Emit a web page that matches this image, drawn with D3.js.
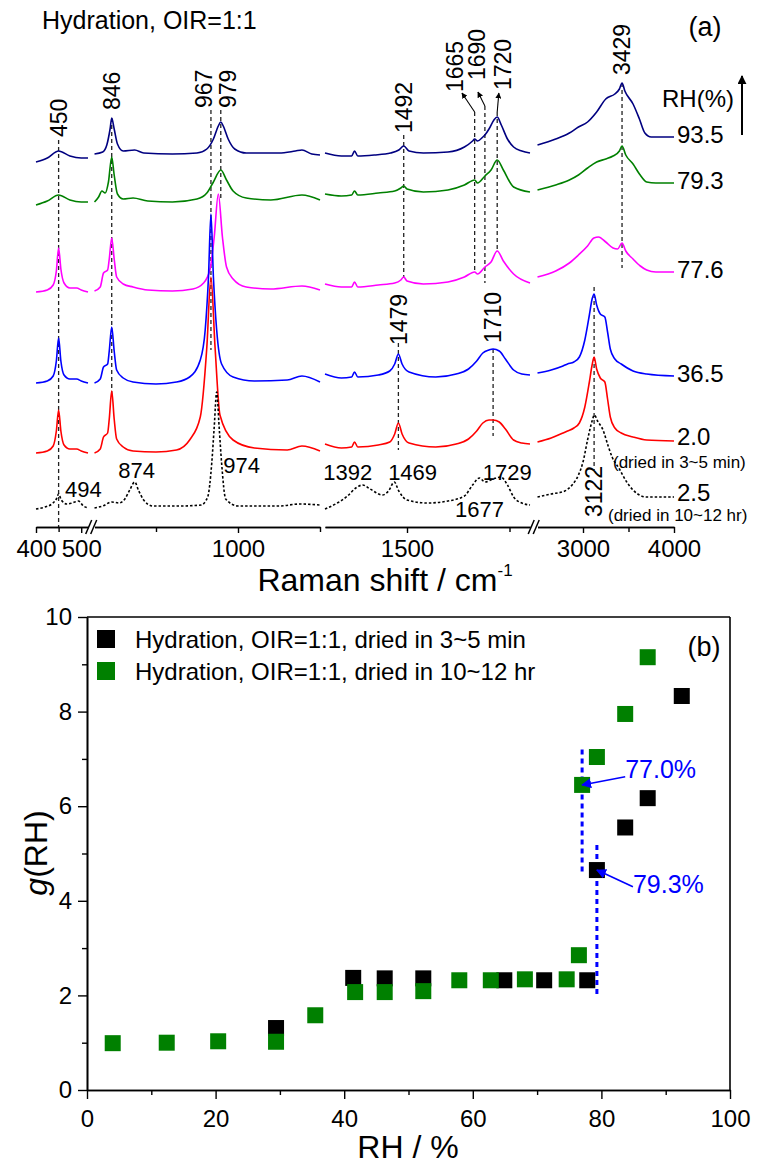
<!DOCTYPE html>
<html lang="en">
<head>
<meta charset="UTF-8">
<title>Hydration, OIR=1:1</title>
<script src="https://d3js.org/d3.v7.min.js"></script>
</head>
<body style="margin: 0px; background: #fff;">
<script>
// ---- panel (a): Raman spectra, [shift cm-1, stacked intensity a.u.] ----
var rh935 = [[400,365],[425,369],[450,376],[475,371],[500,369],[515,369],
  [825,373],[835,375],[840,382],[844,398],[846,409],[849,398],[853,383],[860,376],[874,377],[885,374],[920,373],[950,374],[962,378],[970,388],[976,401],[979,405],[982,401],[988,388],[996,378],[1010,374],[1050,374],[1070,376],[1078,377],[1090,373],[1100,372],
  [1300,374],[1340,371],[1365,371],[1372,376],[1380,371],[1420,372],[1460,374],[1480,377],[1492,381],[1505,376],[1540,374],[1600,375],[1640,380],[1660,386],[1665,388],[1672,386],[1685,390],[1690,392],[1700,398],[1712,407],[1720,410],[1730,402],[1745,388],[1760,380],[1780,376],[1800,374],
  [2500,382],[2700,388],[2850,394],[2950,400],[3050,405],[3150,415],[3250,428],[3350,433],[3400,438],[3429,444],[3460,436],[3550,423],[3620,408],[3680,394],[3750,390],[4000,390]];
var rh793 = [[400,322],[425,326],[450,332],[475,327],[500,325],[515,325],
  [825,325],[830,330],[834,336],[838,334],[842,345],[846,370],[849,352],[853,333],[860,328],[872,329],[890,326],[920,325],[950,328],[962,334],[970,345],[979,357],[986,347],[994,336],[1010,329],[1040,327],[1078,332],[1100,327],
  [1300,333],[1340,331],[1365,332],[1372,336],[1380,332],[1430,334],[1470,336],[1485,339],[1492,341],[1500,338],[1540,335],[1600,337],[1640,342],[1665,347],[1672,344],[1690,351],[1705,357],[1720,367],[1735,357],[1760,340],[1800,335],
  [2500,337],[2700,342],[2850,347],[2950,352],[3050,359],[3150,365],[3250,368],[3330,371],[3400,376],[3429,381],[3470,372],[3550,363],[3620,353],[3700,345],[3800,344],[4000,344]];
var rh776 = [[400,235],[425,237],[438,242],[445,256],[450,279],[455,258],[462,244],[475,239],[490,239],[500,237],[515,235],
  [825,236],[832,240],[836,254],[841,257],[843,268],[846,289],[849,268],[852,250],[860,243],[872,240],[890,237],[920,236],[945,238],[958,244],[966,258],[971,290],[976,333],[981,290],[986,260],[994,248],[1010,240],[1040,238],[1078,241],[1100,237],
  [1300,243],[1340,240],[1365,240],[1372,245],[1380,240],[1430,242],[1470,244],[1485,247],[1492,250],[1500,246],[1540,243],[1600,245],[1640,250],[1665,255],[1672,253],[1690,260],[1705,265],[1720,276],[1735,266],[1760,253],[1800,244],
  [2500,250],[2700,256],[2850,264],[2950,272],[3050,281],[3120,289],[3170,290],[3250,285],[3330,279],[3380,278],[3429,284],[3470,276],[3550,268],[3630,261],[3700,257],[3800,255],[4000,255]];
var rh365 = [[400,144],[425,146],[438,151],[445,166],[450,189],[455,166],[462,152],[475,148],[490,148],[500,146],[515,144],
  [825,144],[832,148],[836,160],[841,163],[843,176],[846,200],[849,176],[852,157],[860,149],[872,145],[900,143],[925,145],[941,150],[954,167],[960,197],[964,250],[967,313],[970,250],[974,197],[980,163],[994,150],[1020,146],[1060,147],[1078,151],[1100,145],
  [1300,153],[1340,149],[1365,150],[1372,155],[1380,150],[1430,152],[1458,156],[1470,163],[1479,173],[1488,163],[1505,155],[1570,150],[1620,153],[1650,158],[1670,166],[1685,174],[1700,177],[1710,178],[1725,176],[1740,168],[1760,157],[1780,153],[1800,152],
  [2500,154],[2650,157],[2780,161],[2830,163],[2900,165],[2960,170],[3020,187],[3070,212],[3100,228],[3122,233],[3150,222],[3190,213],[3240,210],[3270,195],[3300,178],[3350,168],[3420,163],[3550,156],[3700,153],[4000,151]];
var rh20 = [[400,74],[425,76],[438,81],[445,96],[450,117],[455,96],[462,82],[475,78],[490,78],[500,76],[515,74],
  [825,74],[832,78],[836,90],[841,94],[843,108],[846,136],[849,108],[852,88],[860,80],[872,76],[900,75],[925,77],[941,87],[954,110],[962,180],[967,250],[972,180],[978,112],[994,87],[1020,79],[1060,77],[1078,81],[1100,76],
  [1300,83],[1340,79],[1365,80],[1372,85],[1380,80],[1430,82],[1458,85],[1470,93],[1479,104],[1488,93],[1505,84],[1570,80],[1620,83],[1650,88],[1670,96],[1685,104],[1700,107],[1710,107],[1725,105],[1740,98],[1760,87],[1780,84],[1800,83],
  [2500,85],[2650,89],[2780,94],[2830,96],[2900,99],[2960,104],[3020,120],[3070,145],[3100,162],[3122,170],[3150,158],[3190,149],[3240,145],[3270,128],[3300,110],[3350,99],[3420,94],[3550,90],[3700,87],[4000,86]];
var rh25 = [[400,18],[420,20],[435,23],[445,28],[450,33],[456,27],[468,23],[480,24],[494,26],[505,21],[515,19],
  [825,19],[835,21],[846,25],[855,24],[862,28],[868,37],[874,45],[879,36],[885,27],[896,21],[930,21],[955,22],[963,30],[968,64],[971,100],[974,135],[977,100],[980,64],[985,28],[1000,21],[1050,21],[1075,23],[1100,22],
  [1300,18],[1330,24],[1355,31],[1375,39],[1392,42],[1410,38],[1440,32],[1455,36],[1469,45],[1480,36],[1500,27],[1550,24],[1600,26],[1640,31],[1660,42],[1677,49],[1690,45],[1710,48],[1729,50],[1745,42],[1760,30],[1780,24],[1800,22],
  [2500,30],[2650,33],[2800,36],[2880,42],[2950,52],[3000,65],[3050,87],[3100,106],[3125,112],[3160,106],[3220,97],[3280,80],[3320,70],[3400,58],[3480,45],[3550,37],[3700,30],[4000,30]];

var spectra = [rh935, rh793, rh776, rh365, rh20, rh25];
var spectraNames = ['93.5', '79.3', '77.6', '36.5', '2.0', '2.5'];
var spectraColors = ['#000080', '#008000', '#ff00ff', '#0000ff', '#ff0000', '#000000'];

// broken x axis
var segDomains = [[400, 515], [825, 1100], [1300, 1800], [2500, 4000]];
var segTicks = [[400, 500], [1000], [1500], [3000, 4000]];
var segMinor = [[450], [900, 1100], [1750], [3500]];

// dashed peak guides: [shift, top, bottom]
var peakLines = [[450,387,0],[846,409,132],[967,417,177],[979,417,327],[1492,392,249],[1665,415,255],
  [1690,421,244],[1720,415,276],[3429,444,259],[1479,184,77],[1710,178,91],[3122,240,57]];
// rotated peak labels: [text, shift, bottom]
var peakLabels = [['450',450,390],['846',846,417],['967',958,419],['979',988,419],['1492',1492,394],
  ['1665',1617,435],['1690',1671,447],['1720',1734,437],['3429',3429,452],['1479',1480,182],['1710',1710,184],['3122',3122,10]];
// horizontal peak labels of the dried sample: [text, shift, baseline]
var flatLabels = [['494',464,30],['874',854,49],['974',982,54],['1392',1296,47],['1469',1454,47],['1729',1685,47],['1677',1617,10]];
// arrows label <- guide: [shift0, y0, shift1, y1]
var peakArrows = [[1665,415,1634,434],[1690,421,1673,435],[1720,415,1724,434]];

// ---- panel (b): g(RH) ----
var fastRH = [29.4, 41.4, 46.3, 52.3, 64.9, 71.1, 77.8, 79.3, 83.7, 87.2, 92.5];
var fastG = [1.31, 2.37, 2.36, 2.36, 2.32, 2.32, 2.32, 4.65, 5.55, 6.17, 8.33];
var slowRH = [4.0, 12.4, 20.4, 29.4, 35.5, 41.7, 46.3, 52.3, 57.9, 62.8, 68.1, 74.6, 76.5, 77.0, 79.3, 83.7, 87.2];
var slowG = [0.99, 1.0, 1.03, 1.02, 1.58, 2.07, 2.07, 2.09, 2.32, 2.32, 2.34, 2.34, 2.85, 6.45, 7.04, 7.95, 9.15];
var legendNames = ['Hydration, OIR=1:1, dried in 3~5 min', 'Hydration, OIR=1:1, dried in 10~12 hr'];
var transitions = [77.0, 79.3];

var font = 'Liberation Sans, Arial, Helvetica, sans-serif';
var svg = d3.select('body').append('svg')
    .attr('width', 768)
    .attr('height', 1165)
    .style('font-family', font)
    .style('background', '#fff');

var defs = svg.append('defs');
function addMarker(id, color, size) {
    defs.append('marker')
        .attr('id', id)
        .attr('viewBox', '0 0 10 10')
        .attr('refX', 9).attr('refY', 5)
        .attr('markerUnits', 'userSpaceOnUse')
        .attr('markerWidth', size).attr('markerHeight', size)
        .attr('orient', 'auto')
        .append('path').attr('d', 'M0,0L10,5L0,10Z').attr('fill', color);
}
addMarker('arrK', '#000', 6);
addMarker('arrL', '#000', 9);
addMarker('arrB', '#0000ff', 10);

// ================= panel (a) =================
var segRanges = [[36, 88], [94.5, 320], [325, 530], [537.5, 674]];
var xs = segDomains.map(function (d, i) {
    return d3.scaleLinear().domain(d).range(segRanges[i]);
});
var ya = d3.scaleLinear().domain([0, 520]).range([527, 7]);
function segOf(v) {
    if (v < 700) return 0;
    if (v < 1200) return 1;
    if (v < 2200) return 2;
    return 3;
}
function xa(v) { return xs[segOf(v)](v); }

var pa = svg.append('g');

// guides
pa.selectAll('line.guide').data(peakLines).enter().append('line')
    .attr('x1', function (d) { return xa(d[0]); })
    .attr('x2', function (d) { return xa(d[0]); })
    .attr('y1', function (d) { return ya(d[1]); })
    .attr('y2', function (d) { return ya(d[2]); })
    .attr('stroke', '#222').attr('stroke-width', 1.3)
    .attr('stroke-dasharray', '4,3');

// spectra
spectra.forEach(function (sp, k) {
    xs.forEach(function (sc, i) {
        var dom = segDomains[i];
        var pts = sp.filter(function (p) { return p[0] >= dom[0] && p[0] <= dom[1]; });
        var line = d3.line()
            .x(function (p) { return sc(p[0]); })
            .y(function (p) { return ya(p[1]); })
            .curve(d3.curveMonotoneX);
        pa.append('path').datum(pts)
            .attr('d', line)
            .attr('fill', 'none')
            .attr('stroke', spectraColors[k])
            .attr('stroke-width', 1.6)
            .attr('stroke-dasharray', k == 5 ? '2.5,2' : null);
    });
    var last = sp[sp.length - 1];
    pa.append('text')
        .attr('x', xa(last[0]) + 3)
        .attr('y', ya(last[1]))
        .attr('dy', k >= 4 ? '.18em' : '.27em')
        .attr('font-size', 24)
        .text(spectraNames[k]);
});

pa.append('text').attr('x', 613).attr('y', ya(59)).attr('font-size', 17).text('(dried in 3~5 min)');
pa.append('text').attr('x', 608).attr('y', ya(6)).attr('font-size', 17).text('(dried in 10~12 hr)');

// rotated labels
pa.selectAll('text.peak').data(peakLabels).enter().append('text')
    .attr('transform', function (d) {
        return 'translate(' + xa(d[1]) + ',' + ya(d[2]) + ') rotate(-90)';
    })
    .attr('dy', '.35em')
    .attr('font-size', 23)
    .text(function (d) { return d[0]; });

pa.selectAll('text.flat').data(flatLabels).enter().append('text')
    .attr('x', function (d) { return xa(d[1]); })
    .attr('y', function (d) { return ya(d[2]); })
    .attr('font-size', 22)
    .text(function (d) { return d[0]; });

pa.selectAll('line.parrow').data(peakArrows).enter().append('line')
    .attr('x1', function (d) { return xa(d[0]); })
    .attr('y1', function (d) { return ya(d[1]); })
    .attr('x2', function (d) { return xa(d[2]); })
    .attr('y2', function (d) { return ya(d[3]); })
    .attr('stroke', '#000').attr('stroke-width', 1.1)
    .attr('marker-end', 'url(#arrK)');

// axis segments
xs.forEach(function (sc, i) {
    var g = pa.append('g').attr('transform', 'translate(0,527)');
    g.call(d3.axisBottom(sc).tickValues(segTicks[i]).tickSize(6).tickSizeOuter(0).tickPadding(7)
        .tickFormat(d3.format('d')));
    g.append('g').call(d3.axisBottom(sc).tickValues(segMinor[i]).tickSize(5).tickSizeOuter(0)
        .tickFormat(''));
    g.selectAll('path.domain').attr('stroke', '#000').attr('stroke-width', 1.6);
    g.selectAll('.tick line').attr('stroke', '#000').attr('stroke-width', 1.4);
    g.selectAll('.tick text').attr('font-size', 24).attr('font-family', font).attr('fill', '#000');
});
// break marks
[91.2, 533.7].forEach(function (bx) {
    [-2.5, 2.5].forEach(function (o) {
        pa.append('line')
            .attr('x1', bx + o - 3).attr('y1', 534)
            .attr('x2', bx + o + 3).attr('y2', 520)
            .attr('stroke', '#000').attr('stroke-width', 1.5);
    });
});

pa.append('text').attr('x', 385).attr('y', 591).attr('text-anchor', 'middle')
    .attr('font-size', 32).text('Raman shift / cm')
    .append('tspan').attr('font-size', 17).attr('dy', -15).text('-1');

pa.append('text').attr('x', 42).attr('y', 29).attr('font-size', 25).text('Hydration, OIR=1:1');
pa.append('text').attr('x', 705).attr('y', 36).attr('text-anchor', 'middle').attr('font-size', 27).text('(a)');
pa.append('text').attr('x', 662).attr('y', 107).attr('font-size', 24).text('RH(%)');
pa.append('line').attr('x1', 742).attr('y1', 135).attr('x2', 742).attr('y2', 76)
    .attr('stroke', '#000').attr('stroke-width', 2).attr('marker-end', 'url(#arrL)');

// ================= panel (b) =================
var xb = d3.scaleLinear().domain([0, 100]).range([87, 730]);
var yb = d3.scaleLinear().domain([0, 10]).range([1090, 617]);
var pb = svg.append('g');

function styleAxis(g) {
    g.selectAll('path.domain').attr('stroke', '#000').attr('stroke-width', 1.6);
    g.selectAll('.tick line').attr('stroke', '#000').attr('stroke-width', 1.4);
    g.selectAll('.tick text').attr('font-size', 24).attr('font-family', font).attr('fill', '#000');
}
var gx = pb.append('g').attr('transform', 'translate(0,1090)');
gx.call(d3.axisBottom(xb).tickValues([0, 20, 40, 60, 80, 100]).tickSize(9).tickSizeOuter(0).tickPadding(11));
gx.append('g').call(d3.axisBottom(xb).tickValues([10, 30, 50, 70, 90]).tickSize(5).tickSizeOuter(0).tickFormat(''));
styleAxis(gx);
var gy = pb.append('g').attr('transform', 'translate(87,0)');
gy.call(d3.axisLeft(yb).tickValues([0, 2, 4, 6, 8, 10]).tickSize(9).tickSizeOuter(0).tickPadding(6));
gy.append('g').call(d3.axisLeft(yb).tickValues([1, 3, 5, 7, 9]).tickSize(5).tickSizeOuter(0).tickFormat(''));
styleAxis(gy);
pb.append('line').attr('x1', xb(0)).attr('x2', xb(100)).attr('y1', yb(10)).attr('y2', yb(10))
    .attr('stroke', '#000').attr('stroke-width', 1.6);
pb.append('line').attr('x1', xb(100)).attr('x2', xb(100)).attr('y1', yb(10)).attr('y2', yb(0))
    .attr('stroke', '#000').attr('stroke-width', 1.6);

// transition guides
var guideTop = [7.2, 5.18], guideBottom = [4.58, 2.0];
pb.selectAll('line.tr').data(transitions).enter().append('line')
    .attr('x1', function (d) { return xb(d); })
    .attr('x2', function (d) { return xb(d); })
    .attr('y1', function (d, i) { return yb(guideTop[i]); })
    .attr('y2', function (d, i) { return yb(guideBottom[i]); })
    .attr('stroke', '#0000ff').attr('stroke-width', 3)
    .attr('stroke-dasharray', '5,4');

var sq = 16;
pb.selectAll('rect.fast').data(fastRH).enter().append('rect')
    .attr('x', function (d) { return xb(d) - sq / 2; })
    .attr('y', function (d, i) { return yb(fastG[i]) - sq / 2; })
    .attr('width', sq).attr('height', sq).attr('fill', '#000');
pb.selectAll('rect.slow').data(slowRH).enter().append('rect')
    .attr('x', function (d) { return xb(d) - sq / 2; })
    .attr('y', function (d, i) { return yb(slowG[i]) - sq / 2; })
    .attr('width', sq).attr('height', sq).attr('fill', '#008000');

// annotations
var notes = [['77.0%', 83.7, 6.6, 77.0, 6.45], ['79.3%', 84.9, 4.17, 79.3, 4.65]];
notes.forEach(function (n, i) {
    pb.append('text').attr('x', xb(n[1])).attr('y', yb(n[2]))
        .attr('font-size', 25).attr('fill', '#0000ff').text(n[0]);
    pb.append('line')
        .attr('x1', xb(n[1])).attr('y1', yb(n[2]) - (i == 0 ? 1 : 6))
        .attr('x2', xb(n[3])).attr('y2', yb(n[4]))
        .attr('stroke', '#0000ff').attr('stroke-width', 1.6)
        .attr('marker-end', 'url(#arrB)');
});

// legend
var legendColors = ['#000', '#008000'];
legendNames.forEach(function (name, i) {
    pb.append('rect').attr('x', 97).attr('y', 630 + i * 32).attr('width', 18).attr('height', 18)
        .attr('fill', legendColors[i]);
    pb.append('text').attr('x', 135).attr('y', 648 + i * 32).attr('font-size', 24).text(name);
});
pb.append('text').attr('x', 704).attr('y', 656).attr('text-anchor', 'middle').attr('font-size', 27).text('(b)');

pb.append('text').attr('x', 408).attr('y', 1158).attr('text-anchor', 'middle')
    .attr('font-size', 32).text('RH / %');
var gt = pb.append('text').attr('transform', 'translate(36,853) rotate(-90)')
    .attr('text-anchor', 'middle').attr('dy', '.35em').attr('font-size', 32);
gt.append('tspan').attr('font-style', 'italic').text('g');
gt.append('tspan').text('(RH)');
</script>
</body>
</html>
